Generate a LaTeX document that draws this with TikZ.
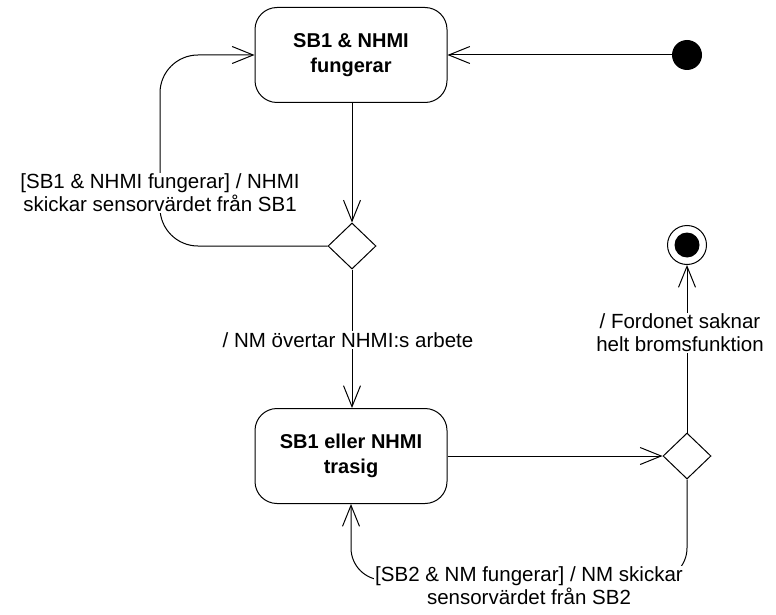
\documentclass[tikz,border=0pt]{standalone}
\usepackage{fontspec}
\setmainfont{Liberation Sans}
\usetikzlibrary{arrows.meta,shapes.geometric}
\begin{document}
\begin{tikzpicture}[x=1pt,y=-1pt,
  line width=1pt,
  arr/.style={-{Straight Barb[length=21pt,width=17pt,line width=1pt]}},
  statebox/.style={draw,rounded corners=22pt,minimum width=192pt,minimum height=95pt,
    align=center,font=\fontsize{20}{25}\selectfont\bfseries,inner sep=0pt},
  dec/.style={draw,diamond,minimum width=48pt,minimum height=46pt,inner sep=0pt},
  lbl/.style={fill=white,align=center,inner sep=1pt,font=\fontsize{20.5}{23}\selectfont}]
\useasboundingbox (0,0) rectangle (776,615);
\node[statebox] (top) at (351,55) {SB1 \& NHMI\\fungerar};
\node[statebox] (bot) at (351,456) {SB1 eller NHMI\\trasig};
\node[circle,fill=black,minimum size=30pt,inner sep=0pt] (init) at (687,55) {};
\node[dec] (d1) at (352,246) {};
\node[dec] (d2) at (687,456) {};
\node[circle,draw,minimum size=39pt,inner sep=0pt] (fin) at (687,245) {};
\node[circle,fill=black,minimum size=25pt,inner sep=0pt] (finin) at (fin) {};
\coordinate (c1) at (160,246);
\coordinate (c2) at (160,55);
\coordinate (c3) at (687,580);
\coordinate (c4) at (351,580);
\draw[arr] (init) -- (top.east);
\draw[arr] (top.south -| d1.north) -- (d1.north);
\draw[arr,rounded corners=38pt] (d1.west) -- (c1) -- (c2) -- (top.west);
\draw[arr] (d1.south) -- (d1.south |- bot.north);
\draw[arr] (bot.east) -- (d2.west);
\draw[arr] (d2.north) -- (fin.south);
\draw[arr,rounded corners=32pt] (d2.south) -- (c3) -- (c4) -- (bot.south);
\node[lbl] (l1) at (160,193) {[SB1 \& NHMI fungerar] / NHMI\\skickar sensorvärdet från SB1};
\node[lbl] (l2) at (348,340) {/ NM övertar NHMI:s arbete};
\node[lbl] (l3) at (680,333) {/ Fordonet saknar\\helt bromsfunktion};
\node[lbl] (l4) at (529,586) {[SB2 \& NM fungerar] / NM skickar\\sensorvärdet från SB2};
\end{tikzpicture}
\end{document}
